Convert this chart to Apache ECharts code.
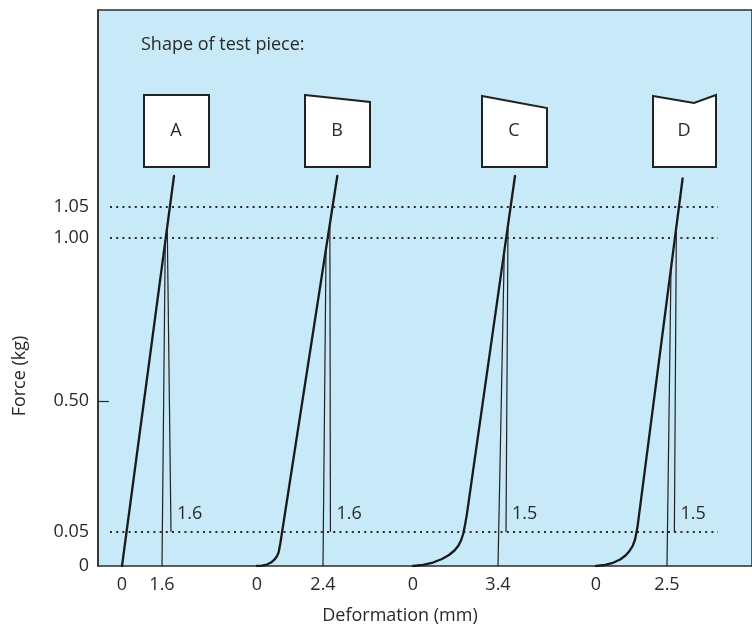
<!DOCTYPE html>
<html><head><meta charset="utf-8">
<script src="https://cdn.jsdelivr.net/npm/echarts@6/dist/echarts.min.js"></script>
<style>html,body{margin:0;padding:0;background:#fff}#c{width:752px;height:629px}</style>
</head><body><div id="c"></div>
<script>
// ---- data ----
const panels = ['A', 'B', 'C', 'D'];
const yTickValues = [0, 0.05, 0.5, 1.0, 1.05];
const yTickLabels = ['0', '0.05', '0.50', '1.00', '1.05'];
const refLevels = [0.05, 1.00, 1.05];
const xTickValues = [[0, 1.6], [0, 2.4], [0, 3.4], [0, 2.5]];
const xTickLabels = [['0', '1.6'], ['0', '2.4'], ['0', '3.4'], ['0', '2.5']];
const recoveryLabels = ['1.6', '1.6', '1.5', '1.5'];
// loading curves [deformation mm, force kg]
const loadA = [[0, 0], [2.08, 1.10]];
const loadB = [[0, 0], [0.18, 0.0007], [0.36, 0.0022], [0.51, 0.0051], [0.64, 0.0096], [0.73, 0.0147], [0.79, 0.0206], [0.82, 0.0272], [0.85, 0.0338], [0.89, 0.0441], [2.92, 1.10]];
const loadC = [[0, 0], [0.40, 0.0018], [0.80, 0.0051], [1.16, 0.0103], [1.44, 0.0162], [1.66, 0.0228], [1.82, 0.0301], [1.93, 0.0382], [2.01, 0.0478], [2.08, 0.074], [2.15, 0.108], [4.08, 1.10]];
const loadD = [[0, 0], [0.32, 0.0015], [0.60, 0.0047], [0.85, 0.0096], [1.04, 0.0154], [1.18, 0.0221], [1.29, 0.0294], [1.37, 0.0382], [1.42, 0.0485], [1.46, 0.067], [3.05, 1.096]];
// unloading back to zero force
const unloadZeroA = [[1.73, 0.99], [1.6, 0]];
const unloadZeroB = [[2.51, 0.963], [2.4, 0]];
const unloadZeroC = [[3.65, 0.954], [3.4, 0]];
const unloadZeroD = [[2.64, 0.902], [2.5, 0]];
// unloading to 0.05 kg
const unloadLowA = [[1.81, 1.018], [1.96, 0.05]];
const unloadLowB = [[2.65, 1.021], [2.67, 0.05]];
const unloadLowC = [[3.80, 1.021], [3.72, 0.05]];
const unloadLowD = [[2.83, 1.021], [2.76, 0.05]];

// ---- schematic (broken) force scale layout ----
const displayBreaks = [0, 34, 165, 328, 359];
function toDisplay(f) {
  const fb = yTickValues, db = displayBreaks;
  for (let i = 1; i < fb.length; i++) {
    if (f <= fb[i] || i === fb.length - 1) {
      return db[i - 1] + (f - fb[i - 1]) * (db[i] - db[i - 1]) / (fb[i] - fb[i - 1]);
    }
  }
}
const mapPts = pts => pts.map(p => [p[0], toDisplay(p[1])]);

const loads = [loadA, loadB, loadC, loadD];
const unloadZero = [unloadZeroA, unloadZeroB, unloadZeroC, unloadZeroD];
const unloadLow = [unloadLowA, unloadLowB, unloadLowC, unloadLowD];

const FONT = 'Open Sans';
const FS = 18;
const TXT = '#2a2a2a';
const PLOT_TOP = 10, PLOT_H = 556, PLOT_L = 98;
const panelLeft = [122, 257, 413, 596];
const panelScale = [25, 27.5, 25, 28.4]; // px per mm
const XMAX = 5;

const grids = [{ left: PLOT_L, top: PLOT_TOP, right: -3, height: PLOT_H, show: true, backgroundColor: '#c7e9f8', borderColor: '#2b2b2b', borderWidth: 1.5 }];
const xAxes = [{ gridIndex: 0, type: 'value', min: 0, max: 654, show: false }];
const yAxes = [{
  gridIndex: 0, type: 'value', min: 0, max: PLOT_H,
  axisLine: { show: true, lineStyle: { color: '#2b2b2b', width: 1.5 } },
  axisTick: { show: true, inside: true, length: 11, customValues: [toDisplay(0.5)], lineStyle: { color: '#2b2b2b', width: 1.2 } },
  splitLine: { show: false },
  axisLabel: {
    customValues: yTickValues.map(toDisplay), margin: 9, fontSize: FS, fontFamily: FONT, color: TXT,
    formatter: v => { let bi = 0, bd = 1e9; displayBreaks.forEach((d, i) => { if (Math.abs(d - v) < bd) { bd = Math.abs(d - v); bi = i; } }); return yTickLabels[bi]; }
  }
}];
panels.forEach((p, i) => {
  grids.push({ left: panelLeft[i], top: PLOT_TOP, width: panelScale[i] * XMAX, height: PLOT_H, show: false });
  xAxes.push({
    gridIndex: i + 1, type: 'value', min: 0, max: XMAX,
    axisLine: { show: false }, axisTick: { show: false }, splitLine: { show: false },
    axisLabel: {
      customValues: xTickValues[i], margin: 10, fontSize: FS, fontFamily: FONT, color: TXT,
      formatter: v => { const k = xTickValues[i].indexOf(v); return k >= 0 ? xTickLabels[i][k] : ''; }
    }
  });
  yAxes.push({ gridIndex: i + 1, type: 'value', min: 0, max: PLOT_H, show: false });
});

const series = [];
refLevels.forEach(lv => {
  series.push({
    type: 'line', xAxisIndex: 0, yAxisIndex: 0, symbol: 'none', silent: true,
    data: [[12, toDisplay(lv)], [620, toDisplay(lv)]],
    lineStyle: { color: '#2b2b2b', width: 2, type: [2, 4.2] }
  });
});
panels.forEach((p, i) => {
  series.push({
    type: 'line', xAxisIndex: i + 1, yAxisIndex: i + 1, symbol: 'none', smooth: false,
    data: mapPts(loads[i]), lineStyle: { color: '#1a1a1a', width: 2.3, join: 'round', cap: 'round' }
  });
  series.push({
    type: 'line', xAxisIndex: i + 1, yAxisIndex: i + 1, symbol: 'none',
    data: mapPts(unloadZero[i]), lineStyle: { color: '#222', width: 1.2 }
  });
  series.push({
    type: 'line', xAxisIndex: i + 1, yAxisIndex: i + 1, symbol: 'none',
    data: mapPts(unloadLow[i]), lineStyle: { color: '#222', width: 1.2 }
  });
  const end = unloadLow[i][unloadLow[i].length - 1];
  series.push({
    type: 'scatter', xAxisIndex: i + 1, yAxisIndex: i + 1, symbolSize: 0,
    data: [[end[0], toDisplay(end[1])]],
    label: { show: true, position: 'right', distance: 6, offset: [0, -18], formatter: recoveryLabels[i], fontSize: FS, fontFamily: FONT, color: TXT, opacity: 1 }
  });
});

const shapes = [
  [[144, 95], [209, 95], [209, 167], [144, 167]],
  [[305, 95], [370, 102], [370, 167], [305, 167]],
  [[482, 96], [547, 108], [547, 167], [482, 167]],
  [[653, 96], [694, 103], [716, 95], [716, 167], [653, 167]]
];
const shapeLabelPos = [[176, 131], [337, 131], [514, 131], [684, 131]];
const graphic = [
  { type: 'text', left: 141, top: 36, style: { text: 'Shape of test piece:', fontSize: FS, fontFamily: FONT, fill: TXT } },
  { type: 'text', x: 20, y: 376, rotation: Math.PI / 2, style: { text: 'Force (kg)', fontSize: FS, fontFamily: FONT, fill: TXT, align: 'center', verticalAlign: 'middle' } },
  { type: 'text', x: 400, y: 616, style: { text: 'Deformation (mm)', fontSize: FS, fontFamily: FONT, fill: TXT, align: 'center', verticalAlign: 'middle' } }
];
shapes.forEach((pts, i) => {
  graphic.push({ type: 'polygon', shape: { points: pts }, style: { fill: '#fff', stroke: '#222', lineWidth: 2 }, z: 10 });
  graphic.push({ type: 'text', x: shapeLabelPos[i][0], y: shapeLabelPos[i][1], z: 11, style: { text: panels[i], fontSize: FS, fontFamily: FONT, fill: TXT, align: 'center', verticalAlign: 'middle' } });
});

const chart = echarts.init(document.getElementById('c'), null, { renderer: 'canvas' });
chart.setOption({ animation: false, grid: grids, xAxis: xAxes, yAxis: yAxes, series: series, graphic: graphic });
</script></body></html>
